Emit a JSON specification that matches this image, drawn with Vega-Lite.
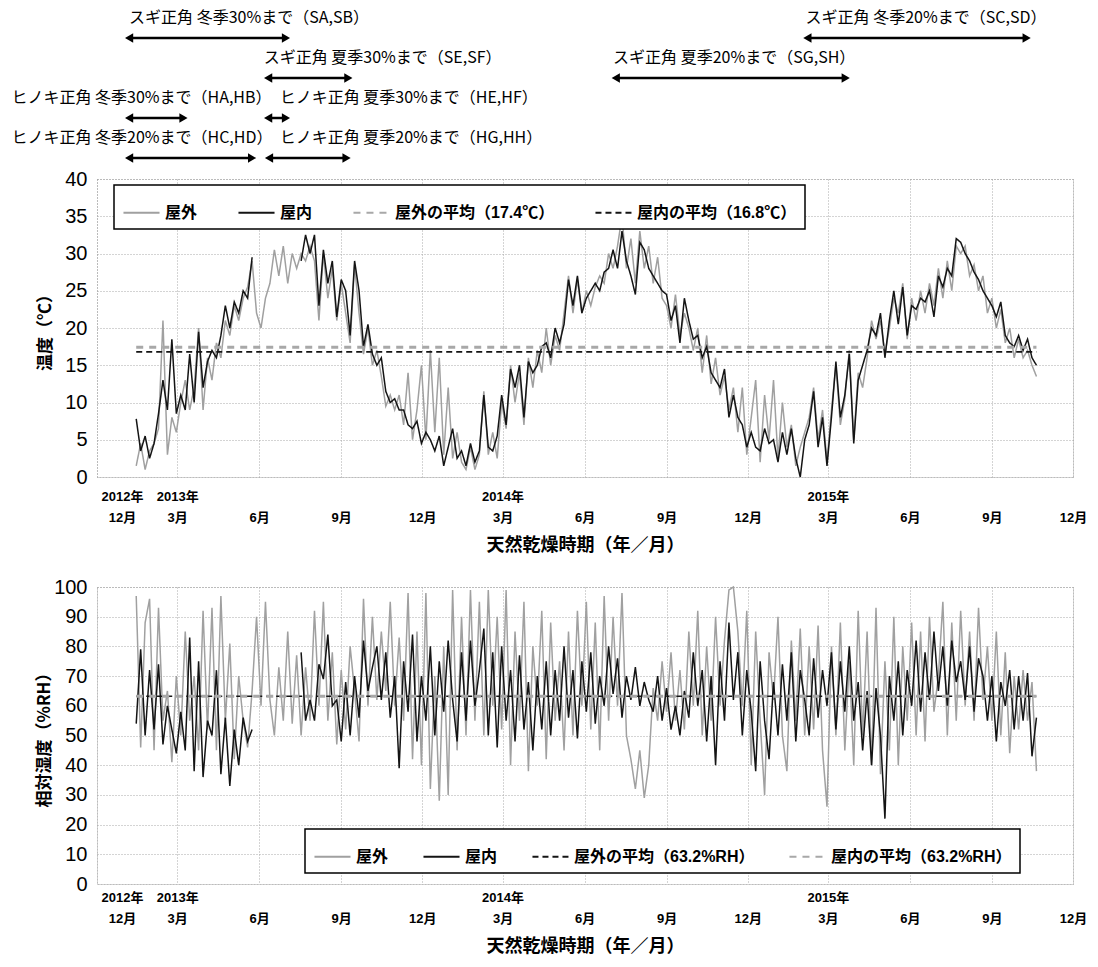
{
"$schema":"https://vega.github.io/schema/vega-lite/v6.json",
"padding":{"left":10,"top":9,"right":5,"bottom":5},
"background":"white",
"config":{
 "font":"Liberation Sans, Noto Sans CJK JP",
 "view":{"stroke":"#9a9a9a","strokeDash":[1,2],"strokeWidth":1},
 "axis":{"domain":false,"ticks":false,"grid":true,"gridColor":"#a8a8a8","gridDash":[1,2],"labelColor":"#000","titleColor":"#000","titleFont":"Noto Sans CJK JP","titleFontWeight":"bold","titleFontSize":17},
 "legend":{"strokeWidth":1.5}
},
"datasets":{
"ann":[
{"label":"スギ正角 冬季30%まで（SA,SB）","lane":1,"at":"2013-01-06","start":"2013-01-06","end":"2013-07-01"},
{"label":"スギ正角 冬季20%まで（SC,SD）","lane":1,"at":"2015-02-04","start":"2015-02-06","end":"2015-10-10"},
{"label":"スギ正角 夏季30%まで（SE,SF）","lane":2,"at":"2013-06-06","start":"2013-06-11","end":"2013-09-09"},
{"label":"スギ正角 夏季20%まで（SG,SH）","lane":2,"at":"2014-07-03","start":"2014-07-06","end":"2015-03-21"},
{"label":"ヒノキ正角 冬季30%まで（HA,HB）","lane":3,"at":"2012-08-27","start":"2013-01-06","end":"2013-03-08"},
{"label":"ヒノキ正角 夏季30%まで（HE,HF）","lane":3,"at":"2013-06-24","start":"2013-06-11","end":"2013-07-01"},
{"label":"ヒノキ正角 冬季20%まで（HC,HD）","lane":4,"at":"2012-08-27","start":"2013-01-06","end":"2013-05-24"},
{"label":"ヒノキ正角 夏季20%まで（HG,HH）","lane":4,"at":"2013-06-24","start":"2013-06-12","end":"2013-09-07"}
],
"tmean":[
{"series":"屋外の平均（17.4℃）","v":17.4,"start":"2013-01-14","end":"2015-10-21"},
{"series":"屋内の平均（16.8℃）","v":16.8,"start":"2013-01-14","end":"2015-10-21"}
],
"hmean":[
{"series":"屋外の平均（63.2%RH）","v":63.2,"start":"2013-01-14","end":"2015-10-21"},
{"series":"屋内の平均（63.2%RH）","v":63.2,"start":"2013-01-14","end":"2015-10-21"}
],
"temp":[
{"d":"2013-01-14","屋外":1.5,"屋内":7.8},{"d":"2013-01-19","屋外":4.5,"屋内":3.5},{"d":"2013-01-24","屋外":1.0,"屋内":5.5},{"d":"2013-01-29","屋外":3.5,"屋内":2.5},
{"d":"2013-02-03","屋外":4.5,"屋内":4.5},{"d":"2013-02-08","屋外":6.5,"屋内":8.5},{"d":"2013-02-13","屋外":21,"屋内":13},{"d":"2013-02-18","屋外":3,"屋内":9},{"d":"2013-02-23","屋外":8,"屋内":18.5},{"d":"2013-02-28","屋外":6,"屋内":8.5},
{"d":"2013-03-05","屋外":10,"屋内":11},{"d":"2013-03-10","屋外":13,"屋内":9},{"d":"2013-03-15","屋外":9,"屋内":16.5},{"d":"2013-03-20","屋外":12,"屋内":10},{"d":"2013-03-25","屋外":20,"屋内":19.5},{"d":"2013-03-30","屋外":9,"屋内":12},
{"d":"2013-04-04","屋外":16,"屋内":15.5},{"d":"2013-04-09","屋外":13,"屋内":17},{"d":"2013-04-14","屋外":18,"屋内":16},{"d":"2013-04-19","屋外":16,"屋内":19},{"d":"2013-04-24","屋外":21,"屋内":23},{"d":"2013-04-29","屋外":19,"屋内":20},
{"d":"2013-05-04","屋外":23,"屋内":23.5},{"d":"2013-05-09","屋外":21,"屋内":22},{"d":"2013-05-14","屋外":24,"屋内":25},{"d":"2013-05-19","屋外":25.5,"屋内":24},{"d":"2013-05-24","屋外":29,"屋内":29.5},{"d":"2013-05-29","屋外":22,"屋内":null},
{"d":"2013-06-03","屋外":20,"屋内":null},{"d":"2013-06-08","屋外":24,"屋内":null},{"d":"2013-06-13","屋外":26,"屋内":null},{"d":"2013-06-18","屋外":30.5,"屋内":null},{"d":"2013-06-23","屋外":27,"屋内":null},{"d":"2013-06-28","屋外":31,"屋内":null},
{"d":"2013-07-03","屋外":26,"屋内":null},{"d":"2013-07-08","屋外":30,"屋内":null},{"d":"2013-07-13","屋外":28,"屋内":null},{"d":"2013-07-18","屋外":30,"屋内":29},{"d":"2013-07-23","屋外":29,"屋内":32.5},{"d":"2013-07-28","屋外":31,"屋内":30},
{"d":"2013-08-02","屋外":29,"屋内":32.5},{"d":"2013-08-07","屋外":21,"屋内":23},{"d":"2013-08-12","屋外":30,"屋内":30.5},{"d":"2013-08-17","屋外":24,"屋内":26},{"d":"2013-08-22","屋外":28,"屋内":29},{"d":"2013-08-27","屋外":21,"屋内":21.5},
{"d":"2013-09-01","屋外":26,"屋内":26.5},{"d":"2013-09-06","屋外":22,"屋内":25},{"d":"2013-09-11","屋外":18,"屋内":19},{"d":"2013-09-16","屋外":28.5,"屋内":29},{"d":"2013-09-21","屋外":22,"屋内":25},{"d":"2013-09-26","屋外":16.5,"屋内":17.5},
{"d":"2013-10-01","屋外":20,"屋内":20.5},{"d":"2013-10-06","屋外":15,"屋内":16.5},{"d":"2013-10-11","屋外":17,"屋内":15},{"d":"2013-10-16","屋外":13.5,"屋内":16},{"d":"2013-10-21","屋外":9.5,"屋内":11.5},{"d":"2013-10-26","屋外":11,"屋内":10},{"d":"2013-10-31","屋外":9,"屋内":10.5},
{"d":"2013-11-05","屋外":11,"屋内":9},{"d":"2013-11-10","屋外":7,"屋内":9},{"d":"2013-11-15","屋外":14,"屋内":7},{"d":"2013-11-20","屋外":5,"屋内":6.5},{"d":"2013-11-25","屋外":9,"屋内":7.5},{"d":"2013-11-30","屋外":15,"屋内":4.5},
{"d":"2013-12-05","屋外":5,"屋内":6},{"d":"2013-12-10","屋外":17,"屋内":5},{"d":"2013-12-15","屋外":6,"屋内":3.5},{"d":"2013-12-20","屋外":16,"屋内":5.5},{"d":"2013-12-25","屋外":3,"屋内":1.5},{"d":"2013-12-30","屋外":12,"屋内":4},
{"d":"2014-01-04","屋外":2.5,"屋内":6.5},{"d":"2014-01-09","屋外":6,"屋内":2.5},{"d":"2014-01-14","屋外":2,"屋内":3.5},{"d":"2014-01-19","屋外":1,"屋内":1.5},{"d":"2014-01-24","屋外":4,"屋内":4.5},{"d":"2014-01-29","屋外":1,"屋内":2},
{"d":"2014-02-03","屋外":3,"屋内":3.5},{"d":"2014-02-08","屋外":11.5,"屋内":11},{"d":"2014-02-13","屋外":3,"屋内":4},{"d":"2014-02-18","屋外":6,"屋内":3.5},{"d":"2014-02-23","屋外":2.5,"屋内":5.5},{"d":"2014-02-28","屋外":10,"屋内":11},
{"d":"2014-03-05","屋外":6.5,"屋内":7},{"d":"2014-03-10","屋外":15,"屋内":14.5},{"d":"2014-03-15","屋外":10,"屋内":12},{"d":"2014-03-20","屋外":14,"屋内":15},{"d":"2014-03-25","屋外":7,"屋内":8},{"d":"2014-03-30","屋外":16,"屋内":15.5},
{"d":"2014-04-04","屋外":12,"屋内":14},{"d":"2014-04-09","屋外":17,"屋内":15},{"d":"2014-04-14","屋外":14,"屋内":17.5},{"d":"2014-04-19","屋外":20,"屋内":18},{"d":"2014-04-24","屋外":15,"屋内":16},{"d":"2014-04-29","屋外":19,"屋内":20},
{"d":"2014-05-04","屋外":17,"屋内":18},{"d":"2014-05-09","屋外":22,"屋内":20.5},{"d":"2014-05-14","屋外":27,"屋内":26.5},{"d":"2014-05-19","屋外":22,"屋内":23},{"d":"2014-05-24","屋外":26.5,"屋内":27},{"d":"2014-05-29","屋外":22,"屋内":22},
{"d":"2014-06-03","屋外":25,"屋内":24},{"d":"2014-06-08","屋外":23,"屋内":25},{"d":"2014-06-13","屋外":25.5,"屋内":26},{"d":"2014-06-18","屋外":27,"屋内":25},{"d":"2014-06-23","屋外":26,"屋内":27.5},{"d":"2014-06-28","屋外":30,"屋内":28},
{"d":"2014-07-03","屋外":28,"屋内":30.5},{"d":"2014-07-08","屋外":31,"屋内":28},{"d":"2014-07-13","屋外":35,"屋内":33},{"d":"2014-07-18","屋外":28,"屋内":29},{"d":"2014-07-23","屋外":32,"屋内":27},{"d":"2014-07-28","屋外":26,"屋内":24.5},
{"d":"2014-08-02","屋外":33,"屋内":31.5},{"d":"2014-08-07","屋外":28,"屋内":30.5},{"d":"2014-08-12","屋外":31,"屋内":28},{"d":"2014-08-17","屋外":26,"屋内":27},{"d":"2014-08-22","屋外":29.5,"屋内":26},{"d":"2014-08-27","屋外":24,"屋内":25},
{"d":"2014-09-01","屋外":23,"屋内":24.5},{"d":"2014-09-06","屋外":20,"屋内":21},{"d":"2014-09-11","屋外":24.5,"屋内":23},{"d":"2014-09-16","屋外":19,"屋内":18},{"d":"2014-09-21","屋外":22,"屋内":24},{"d":"2014-09-26","屋外":20,"屋内":21},
{"d":"2014-10-01","屋外":17,"屋内":18.5},{"d":"2014-10-06","屋外":20,"屋内":19},{"d":"2014-10-11","屋外":14,"屋内":16},{"d":"2014-10-16","屋外":19,"屋内":17.5},{"d":"2014-10-21","屋外":12.5,"屋内":14},{"d":"2014-10-26","屋外":16,"屋内":13},{"d":"2014-10-31","屋外":11,"屋内":12},
{"d":"2014-11-05","屋外":13.5,"屋内":14.5},{"d":"2014-11-10","屋外":9,"屋内":8},{"d":"2014-11-15","屋外":12,"屋内":11},{"d":"2014-11-20","屋外":6,"屋内":8},{"d":"2014-11-25","屋外":12,"屋内":7},{"d":"2014-11-30","屋外":3,"屋内":4},
{"d":"2014-12-05","屋外":8,"屋内":6},{"d":"2014-12-10","屋外":13,"屋内":4},{"d":"2014-12-15","屋外":2,"屋内":3.5},{"d":"2014-12-20","屋外":11,"屋内":6.5},{"d":"2014-12-25","屋外":5,"屋内":4.5},{"d":"2014-12-30","屋外":13,"屋内":5},
{"d":"2015-01-04","屋外":2.5,"屋内":2},{"d":"2015-01-09","屋外":10,"屋内":6},{"d":"2015-01-14","屋外":4,"屋内":3},{"d":"2015-01-19","屋外":7,"屋内":6.5},{"d":"2015-01-24","屋外":1.5,"屋内":2.5},{"d":"2015-01-29","屋外":4,"屋内":0},
{"d":"2015-02-03","屋外":6,"屋内":5},{"d":"2015-02-08","屋外":8,"屋内":7},{"d":"2015-02-13","屋外":12,"屋内":11.5},{"d":"2015-02-18","屋外":5,"屋内":4},{"d":"2015-02-23","屋外":9,"屋内":8},{"d":"2015-02-28","屋外":2,"屋内":1.5},
{"d":"2015-03-05","屋外":9,"屋内":8},{"d":"2015-03-10","屋外":15,"屋内":15.5},{"d":"2015-03-15","屋外":7,"屋内":8},{"d":"2015-03-20","屋外":10.5,"屋内":11},{"d":"2015-03-25","屋外":17,"屋内":16.5},{"d":"2015-03-30","屋外":5,"屋内":4.5},
{"d":"2015-04-04","屋外":14,"屋内":13},{"d":"2015-04-09","屋外":12,"屋内":15},{"d":"2015-04-14","屋外":16,"屋内":17},{"d":"2015-04-19","屋外":21,"屋内":20},{"d":"2015-04-24","屋外":18.5,"屋内":19},{"d":"2015-04-29","屋外":21,"屋内":22},
{"d":"2015-05-04","屋外":16.5,"屋内":16},{"d":"2015-05-09","屋外":20,"屋内":21},{"d":"2015-05-14","屋外":24,"屋内":25},{"d":"2015-05-19","屋外":22,"屋内":20.5},{"d":"2015-05-24","屋外":26,"屋内":25.5},{"d":"2015-05-29","屋外":18.5,"屋内":19},
{"d":"2015-06-03","屋外":24,"屋内":23},{"d":"2015-06-08","屋外":21,"屋内":22.5},{"d":"2015-06-13","屋外":25,"屋内":24},{"d":"2015-06-18","屋外":22,"屋内":23.5},{"d":"2015-06-23","屋外":26,"屋内":25},{"d":"2015-06-28","屋外":23,"屋内":21.5},
{"d":"2015-07-03","屋外":28,"屋内":27},{"d":"2015-07-08","屋外":24,"屋内":25.5},{"d":"2015-07-13","屋外":29,"屋内":28},{"d":"2015-07-18","屋外":25,"屋内":27},{"d":"2015-07-23","屋外":31,"屋内":32},{"d":"2015-07-28","屋外":30,"屋内":31.5},
{"d":"2015-08-02","屋外":31,"屋内":30},{"d":"2015-08-07","屋外":27,"屋内":29},{"d":"2015-08-12","屋外":28.5,"屋内":27.5},{"d":"2015-08-17","屋外":25,"屋内":26.5},{"d":"2015-08-22","屋外":27,"屋内":25},{"d":"2015-08-27","屋外":22,"屋内":24},
{"d":"2015-09-01","屋外":24,"屋内":23},{"d":"2015-09-06","屋外":20,"屋内":21.5},{"d":"2015-09-11","屋外":22.5,"屋内":23.5},{"d":"2015-09-16","屋外":18,"屋内":19},{"d":"2015-09-21","屋外":20,"屋内":18},{"d":"2015-09-26","屋外":16,"屋内":17.5},
{"d":"2015-10-01","屋外":18.5,"屋内":19},{"d":"2015-10-06","屋外":16,"屋内":17},{"d":"2015-10-11","屋外":17,"屋内":18.5},{"d":"2015-10-16","屋外":15,"屋内":16},{"d":"2015-10-21","屋外":13.5,"屋内":15}
],
"rh":[
{"d":"2013-01-14","屋外":97,"屋内":54},{"d":"2013-01-19","屋外":46,"屋内":79},{"d":"2013-01-24","屋外":88,"屋内":50},{"d":"2013-01-29","屋外":96,"屋内":72},
{"d":"2013-02-03","屋外":45,"屋内":52},{"d":"2013-02-08","屋外":93,"屋内":74},{"d":"2013-02-13","屋外":55,"屋内":47},{"d":"2013-02-18","屋外":65,"屋内":60},{"d":"2013-02-23","屋外":41,"屋内":52},{"d":"2013-02-28","屋外":70,"屋内":44},
{"d":"2013-03-05","屋外":50,"屋内":58},{"d":"2013-03-10","屋外":85,"屋内":45},{"d":"2013-03-15","屋外":55,"屋内":83},{"d":"2013-03-20","屋外":70,"屋内":38},{"d":"2013-03-25","屋外":45,"屋内":75},{"d":"2013-03-30","屋外":92,"屋内":36},
{"d":"2013-04-04","屋外":52,"屋内":55},{"d":"2013-04-09","屋外":93,"屋内":50},{"d":"2013-04-14","屋外":45,"屋内":72},{"d":"2013-04-19","屋外":97,"屋内":37},{"d":"2013-04-24","屋外":55,"屋内":56},{"d":"2013-04-29","屋外":81,"屋内":33},
{"d":"2013-05-04","屋外":42,"屋内":52},{"d":"2013-05-09","屋外":70,"屋内":40},{"d":"2013-05-14","屋外":55,"屋内":56},{"d":"2013-05-19","屋外":46,"屋内":48},{"d":"2013-05-24","屋外":65,"屋内":52},{"d":"2013-05-29","屋外":90,"屋内":null},
{"d":"2013-06-03","屋外":60,"屋内":null},{"d":"2013-06-08","屋外":95,"屋内":null},{"d":"2013-06-13","屋外":62,"屋内":null},{"d":"2013-06-18","屋外":50,"屋内":null},{"d":"2013-06-23","屋外":73,"屋内":null},{"d":"2013-06-28","屋外":55,"屋内":null},
{"d":"2013-07-03","屋外":85,"屋内":null},{"d":"2013-07-08","屋外":54,"屋内":null},{"d":"2013-07-13","屋外":77,"屋内":null},{"d":"2013-07-18","屋外":50,"屋内":78},{"d":"2013-07-23","屋外":73,"屋内":55},{"d":"2013-07-28","屋外":55,"屋内":62},
{"d":"2013-08-02","屋外":92,"屋内":55},{"d":"2013-08-07","屋外":60,"屋内":74},{"d":"2013-08-12","屋外":95,"屋内":69},{"d":"2013-08-17","屋外":55,"屋内":84},{"d":"2013-08-22","屋外":78,"屋内":60},{"d":"2013-08-27","屋外":47,"屋内":62},
{"d":"2013-09-01","屋外":72,"屋内":48},{"d":"2013-09-06","屋外":52,"屋内":68},{"d":"2013-09-11","屋外":80,"屋内":50},{"d":"2013-09-16","屋外":65,"屋内":70},{"d":"2013-09-21","屋外":48,"屋内":56},{"d":"2013-09-26","屋外":96,"屋内":82},
{"d":"2013-10-01","屋外":60,"屋内":65},{"d":"2013-10-06","屋外":90,"屋内":73},{"d":"2013-10-11","屋外":62,"屋内":80},{"d":"2013-10-16","屋外":85,"屋内":62},{"d":"2013-10-21","屋外":65,"屋内":78},{"d":"2013-10-26","屋外":95,"屋内":56},{"d":"2013-10-31","屋外":60,"屋内":70},
{"d":"2013-11-05","屋外":83,"屋内":39},{"d":"2013-11-10","屋外":55,"屋内":75},{"d":"2013-11-15","屋外":98,"屋内":58},{"d":"2013-11-20","屋外":42,"屋内":84},{"d":"2013-11-25","屋外":85,"屋内":48},{"d":"2013-11-30","屋外":40,"屋内":70},
{"d":"2013-12-05","屋外":98,"屋内":55},{"d":"2013-12-10","屋外":32,"屋内":80},{"d":"2013-12-15","屋外":70,"屋内":50},{"d":"2013-12-20","屋外":28,"屋内":75},{"d":"2013-12-25","屋外":80,"屋内":58},{"d":"2013-12-30","屋外":30,"屋内":82},
{"d":"2014-01-04","屋外":99,"屋内":62},{"d":"2014-01-09","屋外":45,"屋内":48},{"d":"2014-01-14","屋外":90,"屋内":78},{"d":"2014-01-19","屋外":50,"屋内":55},{"d":"2014-01-24","屋外":99,"屋内":82},{"d":"2014-01-29","屋外":55,"屋内":60},
{"d":"2014-02-03","屋外":95,"屋内":72},{"d":"2014-02-08","屋外":50,"屋内":86},{"d":"2014-02-13","屋外":99,"屋内":50},{"d":"2014-02-18","屋外":60,"屋内":78},{"d":"2014-02-23","屋外":90,"屋内":46},{"d":"2014-02-28","屋外":52,"屋内":80},
{"d":"2014-03-05","屋外":99,"屋内":55},{"d":"2014-03-10","屋外":40,"屋内":72},{"d":"2014-03-15","屋外":85,"屋内":48},{"d":"2014-03-20","屋外":55,"屋内":77},{"d":"2014-03-25","屋外":95,"屋内":52},{"d":"2014-03-30","屋外":38,"屋内":68},
{"d":"2014-04-04","屋外":80,"屋内":45},{"d":"2014-04-09","屋外":60,"屋内":70},{"d":"2014-04-14","屋外":92,"屋内":52},{"d":"2014-04-19","屋外":42,"屋内":75},{"d":"2014-04-24","屋外":88,"屋内":50},{"d":"2014-04-29","屋外":55,"屋内":72},
{"d":"2014-05-04","屋外":75,"屋内":55},{"d":"2014-05-09","屋外":45,"屋内":80},{"d":"2014-05-14","屋外":85,"屋内":56},{"d":"2014-05-19","屋外":50,"屋内":72},{"d":"2014-05-24","屋外":92,"屋内":49},{"d":"2014-05-29","屋外":60,"屋内":75},
{"d":"2014-06-03","屋外":95,"屋内":58},{"d":"2014-06-08","屋外":52,"屋内":78},{"d":"2014-06-13","屋外":88,"屋内":54},{"d":"2014-06-18","屋外":45,"屋内":70},{"d":"2014-06-23","屋外":97,"屋内":60},{"d":"2014-06-28","屋外":55,"屋内":80},
{"d":"2014-07-03","屋外":90,"屋内":64},{"d":"2014-07-08","屋外":60,"屋内":76},{"d":"2014-07-13","屋外":98,"屋内":56},{"d":"2014-07-18","屋外":50,"屋内":70},{"d":"2014-07-23","屋外":42,"屋内":62},{"d":"2014-07-28","屋外":32,"屋内":73},
{"d":"2014-08-02","屋外":45,"屋内":60},{"d":"2014-08-07","屋外":29,"屋内":68},{"d":"2014-08-12","屋外":40,"屋内":62},{"d":"2014-08-17","屋外":66,"屋内":58},{"d":"2014-08-22","屋外":55,"屋内":70},{"d":"2014-08-27","屋外":75,"屋内":55},
{"d":"2014-09-01","屋外":58,"屋内":66},{"d":"2014-09-06","屋外":78,"屋内":52},{"d":"2014-09-11","屋外":55,"屋内":60},{"d":"2014-09-16","屋外":72,"屋内":50},{"d":"2014-09-21","屋外":52,"屋内":65},{"d":"2014-09-26","屋外":85,"屋内":56},
{"d":"2014-10-01","屋外":60,"屋内":78},{"d":"2014-10-06","屋外":92,"屋内":60},{"d":"2014-10-11","屋外":50,"屋内":72},{"d":"2014-10-16","屋外":80,"屋内":48},{"d":"2014-10-21","屋外":55,"屋内":70},{"d":"2014-10-26","屋外":90,"屋内":40},{"d":"2014-10-31","屋外":60,"屋内":75},
{"d":"2014-11-05","屋外":82,"屋内":55},{"d":"2014-11-10","屋外":99,"屋内":88},{"d":"2014-11-15","屋外":100,"屋内":62},{"d":"2014-11-20","屋外":85,"屋内":78},{"d":"2014-11-25","屋外":60,"屋内":50},{"d":"2014-11-30","屋外":92,"屋内":72},
{"d":"2014-12-05","屋外":40,"屋内":58},{"d":"2014-12-10","屋外":85,"屋内":38},{"d":"2014-12-15","屋外":55,"屋内":75},{"d":"2014-12-20","屋外":30,"屋内":55},{"d":"2014-12-25","屋外":78,"屋内":42},{"d":"2014-12-30","屋外":62,"屋内":68},
{"d":"2015-01-04","屋外":90,"屋内":50},{"d":"2015-01-09","屋外":50,"屋内":74},{"d":"2015-01-14","屋外":38,"屋内":55},{"d":"2015-01-19","屋外":82,"屋内":78},{"d":"2015-01-24","屋外":55,"屋内":48},{"d":"2015-01-29","屋外":86,"屋内":72},
{"d":"2015-02-03","屋外":50,"屋内":62},{"d":"2015-02-08","屋外":80,"屋内":50},{"d":"2015-02-13","屋外":52,"屋内":76},{"d":"2015-02-18","屋外":87,"屋内":56},{"d":"2015-02-23","屋外":45,"屋内":72},{"d":"2015-02-28","屋外":26,"屋内":60},
{"d":"2015-03-05","屋外":80,"屋内":78},{"d":"2015-03-10","屋外":50,"屋内":52},{"d":"2015-03-15","屋外":88,"屋内":75},{"d":"2015-03-20","屋外":45,"屋内":58},{"d":"2015-03-25","屋外":75,"屋内":80},{"d":"2015-03-30","屋外":40,"屋内":55},
{"d":"2015-04-04","屋外":92,"屋内":68},{"d":"2015-04-09","屋外":50,"屋内":45},{"d":"2015-04-14","屋外":85,"屋内":65},{"d":"2015-04-19","屋外":40,"屋内":40},{"d":"2015-04-24","屋外":93,"屋内":66},{"d":"2015-04-29","屋外":37,"屋内":50},
{"d":"2015-05-04","屋外":75,"屋内":22},{"d":"2015-05-09","屋外":45,"屋内":70},{"d":"2015-05-14","屋外":90,"屋内":55},{"d":"2015-05-19","屋外":40,"屋内":75},{"d":"2015-05-24","屋外":80,"屋内":50},{"d":"2015-05-29","屋外":55,"屋内":72},
{"d":"2015-06-03","屋外":88,"屋内":60},{"d":"2015-06-08","屋外":50,"屋内":82},{"d":"2015-06-13","屋外":85,"屋内":58},{"d":"2015-06-18","屋外":48,"屋内":78},{"d":"2015-06-23","屋外":90,"屋内":62},{"d":"2015-06-28","屋外":58,"屋内":85},
{"d":"2015-07-03","屋外":70,"屋内":65},{"d":"2015-07-08","屋外":95,"屋内":80},{"d":"2015-07-13","屋外":50,"屋内":60},{"d":"2015-07-18","屋外":88,"屋内":82},{"d":"2015-07-23","屋外":55,"屋内":68},{"d":"2015-07-28","屋外":92,"屋内":75},
{"d":"2015-08-02","屋外":60,"屋内":62},{"d":"2015-08-07","屋外":85,"屋内":80},{"d":"2015-08-12","屋外":55,"屋内":58},{"d":"2015-08-17","屋外":93,"屋内":76},{"d":"2015-08-22","屋外":62,"屋内":70},{"d":"2015-08-27","屋外":80,"屋内":55},
{"d":"2015-09-01","屋外":55,"屋内":70},{"d":"2015-09-06","屋外":85,"屋内":48},{"d":"2015-09-11","屋外":50,"屋内":68},{"d":"2015-09-16","屋外":78,"屋内":60},{"d":"2015-09-21","屋外":44,"屋内":72},{"d":"2015-09-26","屋外":70,"屋内":52},
{"d":"2015-10-01","屋外":52,"屋内":70},{"d":"2015-10-06","屋外":72,"屋内":55},{"d":"2015-10-11","屋外":55,"屋内":71},{"d":"2015-10-16","屋外":68,"屋内":43},{"d":"2015-10-21","屋外":38,"屋内":56}
]
},
"vconcat":[
{
"width":976,"height":298,
"layer":[
{
"encoding":{
  "x":{"field":"d","type":"temporal","title":"天然乾燥時期（年／月）",
   "scale":{"type":"utc","domain":[{"year":2012,"month":12,"date":1,"utc":true},{"year":2015,"month":12,"date":1,"utc":true}]},
   "axis":{"values":[{"year":2012,"month":12,"date":1,"utc":true},{"year":2013,"month":3,"date":1,"utc":true},{"year":2013,"month":6,"date":1,"utc":true},{"year":2013,"month":9,"date":1,"utc":true},{"year":2013,"month":12,"date":1,"utc":true},{"year":2014,"month":3,"date":1,"utc":true},{"year":2014,"month":6,"date":1,"utc":true},{"year":2014,"month":9,"date":1,"utc":true},{"year":2014,"month":12,"date":1,"utc":true},{"year":2015,"month":3,"date":1,"utc":true},{"year":2015,"month":6,"date":1,"utc":true},{"year":2015,"month":9,"date":1,"utc":true},{"year":2015,"month":12,"date":1,"utc":true}],
    "tickCount":40,
    "labelExpr":"(datum.index == 0 || utcmonth(datum.value) == 2) ? [utcyear(datum.value) + '年', (utcmonth(datum.value) + 1) + '月'] : ['', (utcmonth(datum.value) + 1) + '月']",
    "labelFont":"Liberation Sans, Noto Sans CJK JP","labelFontSize":13,"labelFontWeight":"bold","labelLineHeight":21,"labelPadding":13,"labelFlush":false,"labelOverlap":false,"labelBound":false,
    "labelOffset":{"condition":{"test":"datum.index == 0","value":25},"value":0},
    "titlePadding":12,"titleFontSize":18}},
  "y":{"field":"v","type":"quantitative","title":"温度（℃）","scale":{"domain":[0,40],"nice":false,"zero":false},
   "axis":{"values":[0,5,10,15,20,25,30,35,40],"tickCount":20,"labelOverlap":false,"labelFontSize":20,"labelPadding":10,"titlePadding":10}},
  "color":{"field":"series","type":"nominal","scale":{"domain":["屋外","屋内","屋外の平均（17.4℃）","屋内の平均（16.8℃）"],"range":["#a0a0a0","#141414","#a8a8a8","#141414"]},
   "legend":{"title":null,"orient":"none","legendX":17,"legendY":6,"direction":"horizontal","symbolType":"stroke","symbolSize":1300,"symbolStrokeWidth":2,"labelFont":"Liberation Sans, Noto Sans CJK JP","labelFontSize":16,"labelFontWeight":"bold","labelColor":"#000","labelLimit":400,"labelOffset":4,"columnPadding":36,"padding":8,"fillColor":"#fff","strokeColor":"#000"}},
  "strokeDash":{"field":"series","type":"nominal","scale":{"domain":["屋外","屋内","屋外の平均（17.4℃）","屋内の平均（16.8℃）"],"range":[[1,0],[1,0],[7,6],[6,4]]},
   "legend":{"title":null,"orient":"none","legendX":17,"legendY":6,"direction":"horizontal","symbolType":"stroke","symbolSize":1300,"symbolStrokeWidth":2,"labelFont":"Liberation Sans, Noto Sans CJK JP","labelFontSize":16,"labelFontWeight":"bold","labelColor":"#000","labelLimit":400,"labelOffset":4,"columnPadding":36,"padding":8,"fillColor":"#fff","strokeColor":"#000"}}
},
"layer":[
{"data":{"name":"temp"},"transform":[{"fold":["屋外"],"as":["series","v"]}],
 "mark":{"type":"line","strokeWidth":1.5,"invalid":"break-paths-show-domains"}},
{"data":{"name":"temp"},"transform":[{"fold":["屋内"],"as":["series","v"]}],
 "mark":{"type":"line","strokeWidth":1.5,"invalid":"break-paths-show-domains"}},
{"data":{"name":"tmean"},"transform":[{"filter":{"field":"series","equal":"屋外の平均（17.4℃）"}}],
 "mark":{"type":"rule","strokeWidth":3},
 "encoding":{"x":{"field":"start","type":"temporal"},"x2":{"field":"end"}}},
{"data":{"name":"tmean"},"transform":[{"filter":{"field":"series","equal":"屋内の平均（16.8℃）"}}],
 "mark":{"type":"rule","strokeWidth":1.6},
 "encoding":{"x":{"field":"start","type":"temporal"},"x2":{"field":"end"}}}
]
},
{
"data":{"name":"ann"},
"encoding":{"y":{"field":"lane","type":"quantitative","scale":{"domain":[4.525,11.975],"reverse":true,"nice":false,"zero":false},"axis":null}},
"layer":[
{"mark":{"type":"rule","strokeWidth":2.5,"color":"#000"},
 "encoding":{"x":{"field":"start","type":"temporal","title":"天然乾燥時期（年／月）"},"x2":{"field":"end"}}},
{"mark":{"type":"point","shape":"triangle-left","filled":true,"size":90,"color":"#000","opacity":1},
 "encoding":{"x":{"field":"start","type":"temporal","title":"天然乾燥時期（年／月）"}}},
{"mark":{"type":"point","shape":"triangle-right","filled":true,"size":90,"color":"#000","opacity":1},
 "encoding":{"x":{"field":"end","type":"temporal","title":"天然乾燥時期（年／月）"}}},
{"mark":{"type":"text","align":"left","baseline":"middle","dy":-20,"fontSize":16,"font":"Noto Sans CJK JP","color":"#000"},
 "encoding":{"x":{"field":"at","type":"temporal","title":"天然乾燥時期（年／月）"},"text":{"field":"label"}}}
]
}
],
"resolve":{"scale":{"y":"independent"}}
},
{
"width":976,"height":297,
"encoding":{
  "x":{"field":"d","type":"temporal","title":"天然乾燥時期（年／月）",
   "scale":{"type":"utc","domain":[{"year":2012,"month":12,"date":1,"utc":true},{"year":2015,"month":12,"date":1,"utc":true}]},
   "axis":{"values":[{"year":2012,"month":12,"date":1,"utc":true},{"year":2013,"month":3,"date":1,"utc":true},{"year":2013,"month":6,"date":1,"utc":true},{"year":2013,"month":9,"date":1,"utc":true},{"year":2013,"month":12,"date":1,"utc":true},{"year":2014,"month":3,"date":1,"utc":true},{"year":2014,"month":6,"date":1,"utc":true},{"year":2014,"month":9,"date":1,"utc":true},{"year":2014,"month":12,"date":1,"utc":true},{"year":2015,"month":3,"date":1,"utc":true},{"year":2015,"month":6,"date":1,"utc":true},{"year":2015,"month":9,"date":1,"utc":true},{"year":2015,"month":12,"date":1,"utc":true}],
    "tickCount":40,
    "labelExpr":"(datum.index == 0 || utcmonth(datum.value) == 2) ? [utcyear(datum.value) + '年', (utcmonth(datum.value) + 1) + '月'] : ['', (utcmonth(datum.value) + 1) + '月']",
    "labelFont":"Liberation Sans, Noto Sans CJK JP","labelFontSize":13,"labelFontWeight":"bold","labelLineHeight":21,"labelPadding":7,"labelFlush":false,"labelOverlap":false,"labelBound":false,
    "labelOffset":{"condition":{"test":"datum.index == 0","value":25},"value":0},
    "titlePadding":12,"titleFontSize":18}},
  "y":{"field":"v","type":"quantitative","title":"相対湿度（%RH）","scale":{"domain":[0,100],"nice":false,"zero":false},
   "axis":{"values":[0,10,20,30,40,50,60,70,80,90,100],"tickCount":20,"labelOverlap":false,"labelFontSize":20,"labelPadding":10,"titlePadding":0}},
  "color":{"field":"series","type":"nominal","scale":{"domain":["屋外","屋内","屋外の平均（63.2%RH）","屋内の平均（63.2%RH）"],"range":["#a0a0a0","#141414","#141414","#a8a8a8"]},
   "legend":{"title":null,"orient":"none","legendX":208,"legendY":242,"direction":"horizontal","symbolType":"stroke","symbolSize":1300,"symbolStrokeWidth":2,"labelFont":"Liberation Sans, Noto Sans CJK JP","labelFontSize":16,"labelFontWeight":"bold","labelColor":"#000","labelLimit":400,"labelOffset":4,"columnPadding":30,"padding":8,"fillColor":"#fff","strokeColor":"#000"}},
  "strokeDash":{"field":"series","type":"nominal","scale":{"domain":["屋外","屋内","屋外の平均（63.2%RH）","屋内の平均（63.2%RH）"],"range":[[1,0],[1,0],[6,4],[7,6]]},
   "legend":{"title":null,"orient":"none","legendX":208,"legendY":242,"direction":"horizontal","symbolType":"stroke","symbolSize":1300,"symbolStrokeWidth":2,"labelFont":"Liberation Sans, Noto Sans CJK JP","labelFontSize":16,"labelFontWeight":"bold","labelColor":"#000","labelLimit":400,"labelOffset":4,"columnPadding":30,"padding":8,"fillColor":"#fff","strokeColor":"#000"}}
},
"layer":[
{"data":{"name":"rh"},"transform":[{"fold":["屋外"],"as":["series","v"]}],
 "mark":{"type":"line","strokeWidth":1.5,"invalid":"break-paths-show-domains"}},
{"data":{"name":"rh"},"transform":[{"fold":["屋内"],"as":["series","v"]}],
 "mark":{"type":"line","strokeWidth":1.5,"invalid":"break-paths-show-domains"}},
{"data":{"name":"hmean"},"transform":[{"filter":{"field":"series","equal":"屋外の平均（63.2%RH）"}}],
 "mark":{"type":"rule","strokeWidth":1.6},
 "encoding":{"x":{"field":"start","type":"temporal"},"x2":{"field":"end"}}},
{"data":{"name":"hmean"},"transform":[{"filter":{"field":"series","equal":"屋内の平均（63.2%RH）"}}],
 "mark":{"type":"rule","strokeWidth":3},
 "encoding":{"x":{"field":"start","type":"temporal"},"x2":{"field":"end"}}}
]
}
],
"spacing":110,"bounds":"flush",
"resolve":{"scale":{"x":"independent","y":"independent","color":"independent","strokeDash":"independent"}}
}
